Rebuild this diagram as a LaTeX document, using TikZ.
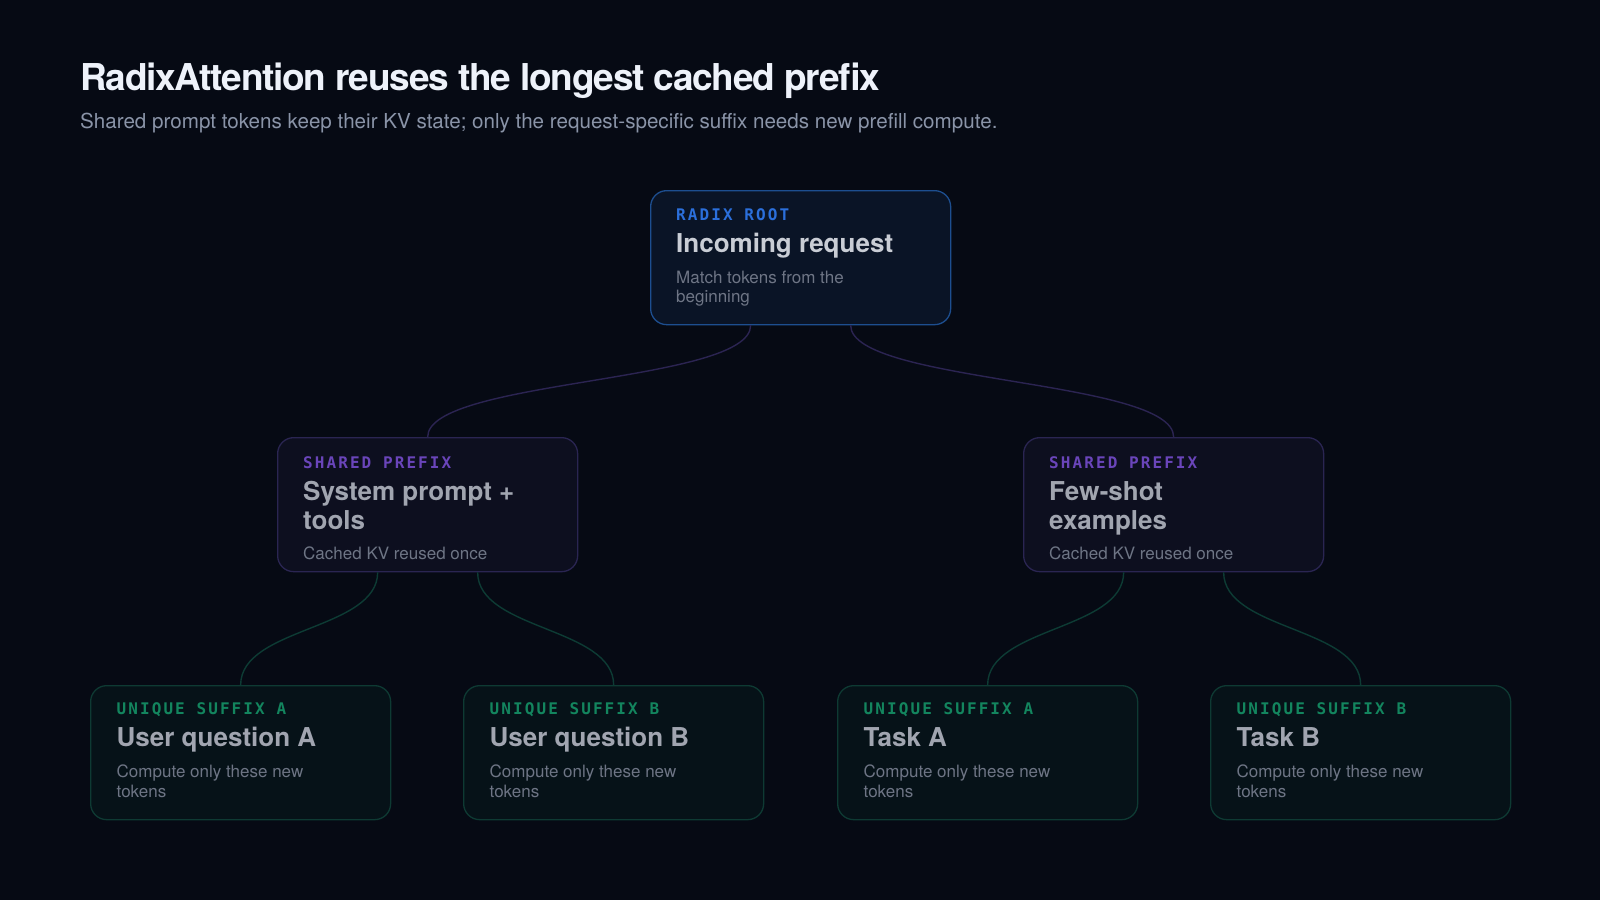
\documentclass[tikz,border=0pt]{standalone}
\usepackage{fontspec}
\setmainfont{TeX Gyre Heros}
\newfontfamily\monof{DejaVu Sans Mono}[LetterSpace=13]
\definecolor{bg}{HTML}{060A14}
\definecolor{rootfill}{HTML}{0A1426}
\definecolor{rootdraw}{HTML}{1D4E8F}
\definecolor{sharefill}{HTML}{0D0F1F}
\definecolor{sharedraw}{HTML}{2A2552}
\definecolor{leaffill}{HTML}{061218}
\definecolor{leafdraw}{HTML}{0E3A33}
\definecolor{connpurple}{HTML}{2B2452}
\definecolor{connteal}{HTML}{0D3B34}
\definecolor{titlecol}{HTML}{EEF2FA}
\definecolor{subcol}{HTML}{8A94A8}
\definecolor{labblue}{HTML}{2B6FDB}
\definecolor{labpurple}{HTML}{6A45BA}
\definecolor{labgreen}{HTML}{13855E}
\definecolor{headroot}{HTML}{C9CDD5}
\definecolor{headdim}{HTML}{A1A5B0}
\definecolor{desccol}{HTML}{6E7585}
\begin{document}
\begin{tikzpicture}[x=1pt,y=-1pt,
  box/.style={rounded corners=16pt, line width=1.3pt, minimum width=300pt,
    minimum height=134pt, anchor=north west, inner sep=0pt},
  rootbox/.style={box, draw=rootdraw, fill=rootfill},
  sharebox/.style={box, draw=sharedraw, fill=sharefill},
  leafbox/.style={box, draw=leafdraw, fill=leaffill},
  txt/.style={anchor=base west, inner sep=0pt},
  lab/.style={txt, font=\monof\bfseries\fontsize{16}{18}\selectfont},
  head/.style={txt, font=\bfseries\fontsize{26}{30}\selectfont},
  desc/.style={txt, text=desccol, font=\fontsize{17}{20}\selectfont},
  connP/.style={draw=connpurple, line width=1.4pt},
  connT/.style={draw=connteal, line width=1.4pt}]
\fill[bg] (0,0) rectangle (1600,900);
\useasboundingbox (0,0) rectangle (1600,900);

% title
\node[txt, text=titlecol, font=\bfseries\fontsize{37}{42}\selectfont\addfontfeature{LetterSpace=-3.3}] (title) at (80,90) {RadixAttention reuses the longest cached prefix};
\node[txt, text=subcol, font=\fontsize{20.6}{24}\selectfont] (subtitle) at (80,128.5) {Shared prompt tokens keep their KV state; only the request-specific suffix needs new prefill compute.};

% boxes
\node[rootbox] (root) at (650,190) {};
\node[sharebox] (shL) at (277,437) {};
\node[sharebox] (shR) at (1023,437) {};
\node[leafbox] (lf1) at (90,685) {};
\node[leafbox] (lf2) at (463,685) {};
\node[leafbox] (lf3) at (837,685) {};
\node[leafbox] (lf4) at (1210,685) {};

% connectors
\draw[connP] ([xshift=-50pt]root.south) .. controls +(0,58) and +(0,-58) .. (shL.north);
\draw[connP] ([xshift=50pt]root.south) .. controls +(0,58) and +(0,-58) .. (shR.north);
\draw[connT] ([xshift=-50pt]shL.south) .. controls +(0,58) and +(0,-58) .. (lf1.north);
\draw[connT] ([xshift=50pt]shL.south) .. controls +(0,58) and +(0,-58) .. (lf2.north);
\draw[connT] ([xshift=-50pt]shR.south) .. controls +(0,58) and +(0,-58) .. (lf3.north);
\draw[connT] ([xshift=50pt]shR.south) .. controls +(0,58) and +(0,-58) .. (lf4.north);

% root text
\node[lab, text=labblue] (rootlab) at (676,220) {RADIX ROOT};
\node[head, text=headroot] (roothead) at (676,252) {Incoming request};
\node[desc] (rootd1) at (676,283) {Match tokens from the};
\node[desc] (rootd2) at (676,302.5) {beginning};

% shared left
\node[lab, text=labpurple] (shLlab) at (303,468) {SHARED PREFIX};
\node[head, text=headdim] (shLh1) at (303,500) {System prompt +};
\node[head, text=headdim] (shLh2) at (303,529.5) {tools};
\node[desc] (shLd) at (303,559.5) {Cached KV reused once};

% shared right
\node[lab, text=labpurple] (shRlab) at (1049,468) {SHARED PREFIX};
\node[head, text=headdim] (shRh1) at (1049,500) {Few-shot};
\node[head, text=headdim] (shRh2) at (1049,529.5) {examples};
\node[desc] (shRd) at (1049,559.5) {Cached KV reused once};

% leaves
\node[lab, text=labgreen] (l1lab) at (116.5,714.5) {UNIQUE SUFFIX A};
\node[head, text=headdim] (l1h) at (116.5,746) {User question A};
\node[desc] (l1d1) at (116.5,777.5) {Compute only these new};
\node[desc] (l1d2) at (116.5,797) {tokens};

\node[lab, text=labgreen] (l2lab) at (489.5,714.5) {UNIQUE SUFFIX B};
\node[head, text=headdim] (l2h) at (489.5,746) {User question B};
\node[desc] (l2d1) at (489.5,777.5) {Compute only these new};
\node[desc] (l2d2) at (489.5,797) {tokens};

\node[lab, text=labgreen] (l3lab) at (863.5,714.5) {UNIQUE SUFFIX A};
\node[head, text=headdim] (l3h) at (863.5,746) {Task A};
\node[desc] (l3d1) at (863.5,777.5) {Compute only these new};
\node[desc] (l3d2) at (863.5,797) {tokens};

\node[lab, text=labgreen] (l4lab) at (1236.5,714.5) {UNIQUE SUFFIX B};
\node[head, text=headdim] (l4h) at (1236.5,746) {Task B};
\node[desc] (l4d1) at (1236.5,777.5) {Compute only these new};
\node[desc] (l4d2) at (1236.5,797) {tokens};
\end{tikzpicture}
\end{document}
